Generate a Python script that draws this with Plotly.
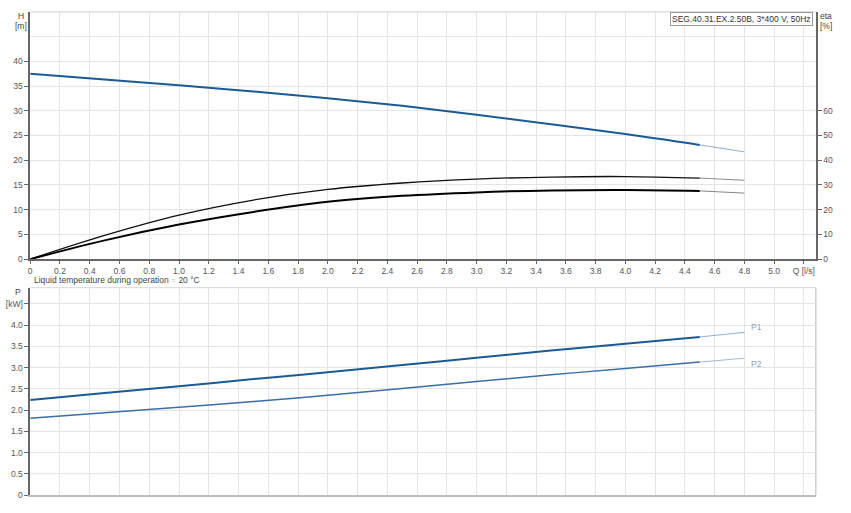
import plotly.graph_objects as go

# ---- data ----
Q = [0, 0.5, 1.0, 1.5, 2.0, 2.5, 3.0, 3.5, 4.0, 4.5, 4.8]
H = [37.5, 36.35, 35.15, 33.9, 32.55, 31.0, 29.2, 27.3, 25.3, 23.1, 21.7]
ETA_A = [0, 9.6, 17.8, 23.9, 28.2, 30.8, 32.4, 33.2, 33.4, 32.8, 31.9]
ETA_B = [0, 7.6, 14.0, 19.1, 23.2, 25.6, 27.0, 27.8, 28.0, 27.6, 26.7]
P1 = [2.24, 2.40, 2.56, 2.73, 2.89, 3.06, 3.23, 3.40, 3.56, 3.72, 3.83]
P2 = [1.81, 1.94, 2.07, 2.20, 2.35, 2.51, 2.67, 2.83, 2.98, 3.13, 3.22]
SOLID_END = 9  # index where the solid (operating) part of each curve ends

X_TICKS = [round(0.2 * i, 1) for i in range(27)]
X_LABELS = ["0" if v == 0 else ("Q [l/s]" if v == 5.2 else f"{v:.1f}") for v in X_TICKS]
H_TICKS = [0, 5, 10, 15, 20, 25, 30, 35, 40]
ETA_TICKS = [0, 10, 20, 30, 40, 50, 60]
P_TICKS = [0, 0.5, 1.0, 1.5, 2.0, 2.5, 3.0, 3.5, 4.0, 4.5]
P_LABELS = ["0", "0.5", "1.0", "1.5", "2.0", "2.5", "3.0", "3.5", "4.0", "[kW]"]

TITLE = "SEG.40.31.EX.2.50B, 3*400 V, 50Hz"

W, HGT = 851, 513
def px(x):
    return x / W
def py(y):
    return 1 - y / HGT

FONT = "Liberation Sans, Arial, sans-serif"
BLUE = "#1c5a96"
BLUE2 = "#3b6ea6"
GRID = "#e4e4e4"
AX = "#666666"

fig = go.Figure()

def add_curve(x, y, color, width, xaxis, yaxis):
    fig.add_trace(go.Scatter(x=x[:SOLID_END + 1], y=y[:SOLID_END + 1], mode="lines",
                             line=dict(color=color, width=width, shape="spline", smoothing=1),
                             xaxis=xaxis, yaxis=yaxis, showlegend=False, hoverinfo="skip"))
    fig.add_trace(go.Scatter(x=x[SOLID_END:], y=y[SOLID_END:], mode="lines",
                             line=dict(color=color, width=0.8),
                             opacity=0.6,
                             xaxis=xaxis, yaxis=yaxis, showlegend=False, hoverinfo="skip"))

add_curve(Q, H, BLUE, 2, "x", "y")
add_curve(Q, ETA_A, "#111111", 1.3, "x", "y2")
add_curve(Q, ETA_B, "#000000", 2, "x", "y2")
add_curve(Q, P1, BLUE, 2, "x2", "y3")
add_curve(Q, P2, BLUE2, 1.5, "x2", "y3")

xdom = [px(28.3), px(815.7)]
tickfont = dict(family=FONT, size=8.5, color="#555555")

fig.update_layout(
    width=W, height=HGT,
    margin=dict(l=0, r=0, t=0, b=0),
    paper_bgcolor="white", plot_bgcolor="white",
    font=dict(family=FONT, size=9, color="#444444"),
    showlegend=False,
    xaxis=dict(domain=xdom, range=[0, 5.28], anchor="y",
               tickmode="array", tickvals=X_TICKS, ticktext=X_LABELS,
               ticks="outside", ticklen=3, tickcolor=AX, tickfont=tickfont,
               showgrid=True, gridcolor=GRID, gridwidth=1, zeroline=False,
               showline=True, linecolor=AX, linewidth=1.5),
    yaxis=dict(domain=[py(261.7), py(12)], range=[0, 50], anchor="x",
               tickmode="array", tickvals=H_TICKS,
               ticks="outside", ticklen=4, tickcolor=AX, tickfont=tickfont,
               showgrid=True, gridcolor=GRID, zeroline=False,
               minor=dict(tickvals=[45, 50], showgrid=True, gridcolor=GRID, ticks=""),
               showline=True, linecolor=AX, linewidth=1.5),
    yaxis2=dict(overlaying="y", side="right", anchor="x", range=[0, 100],
                tickmode="array", tickvals=ETA_TICKS,
                ticks="outside", ticklen=4, tickcolor=AX, tickfont=tickfont,
                showgrid=False, zeroline=False,
                showline=True, linecolor=AX, linewidth=1.5),
    xaxis2=dict(domain=xdom, range=[0, 5.28], anchor="y3",
                tickmode="array", tickvals=X_TICKS, showticklabels=False, ticks="",
                showgrid=True, gridcolor=GRID, zeroline=False,
                showline=True, linecolor="#bdbdbd", linewidth=1.5),
    yaxis3=dict(domain=[py(500), py(290.5)], range=[0, 4.88], anchor="x2",
                tickmode="array", tickvals=P_TICKS, ticktext=P_LABELS,
                ticks="outside", ticklen=4, tickcolor=AX, tickfont=tickfont,
                showgrid=True, gridcolor=GRID, zeroline=False,
                showline=True, linecolor=AX, linewidth=1.5),
)

# frames (top / right borders)
fig.add_shape(type="line", xref="x domain", yref="y domain", x0=0, x1=1, y0=1, y1=1,
              line=dict(color="#cfcfcf", width=1), layer="below")
fig.add_shape(type="line", xref="x2 domain", yref="y3 domain", x0=0, x1=1, y0=1, y1=1,
              line=dict(color="#d8d8d8", width=1), layer="below")
fig.add_shape(type="line", xref="x2 domain", yref="y3 domain", x0=1, x1=1, y0=0, y1=1,
              line=dict(color="#cfcfcf", width=1.5), layer="below")

lab = dict(family=FONT, size=8.5, color="#444444")
anns = [
    dict(text="H", x=px(19), y=py(16), font=lab),
    dict(text="[m]", x=px(19), y=py(26), font=lab),
    dict(text="eta", x=px(826), y=py(16), font=lab),
    dict(text="[%]", x=px(826), y=py(26), font=lab),
    dict(text="P", x=px(16), y=py(294.5), font=lab),
]
for a in anns:
    fig.add_annotation(xref="paper", yref="paper", showarrow=False,
                       xanchor="center", yanchor="middle", **a)

fig.add_annotation(xref="paper", yref="paper", x=px(30), y=py(282.5),
                   xanchor="left", yanchor="middle", showarrow=False,
                   text='Liquid temperature during operation <span style="color:#c8c8c8">=</span> 20 °C',
                   font=dict(family=FONT, size=8.5, color="#444444"))

fig.add_annotation(xref="paper", yref="paper", x=px(813), y=py(11.7),
                   xanchor="right", yanchor="top", showarrow=False,
                   text=TITLE, bgcolor="white", bordercolor="#9a9a9a", borderwidth=1,
                   borderpad=1, font=dict(family=FONT, size=8.5, color="#333333"))

fig.add_annotation(xref="x2", yref="y3", x=Q[-1], y=P1[-1], xanchor="left", yanchor="middle",
                   xshift=5, yshift=5, showarrow=False, text="P1",
                   font=dict(family=FONT, size=8.5, color="#8da3bd"))
fig.add_annotation(xref="x2", yref="y3", x=Q[-1], y=P2[-1], xanchor="left", yanchor="middle",
                   xshift=5, yshift=-6, showarrow=False, text="P2",
                   font=dict(family=FONT, size=8.5, color="#8da3bd"))

PAGE_JS = (
    "var d=document.documentElement,b=document.body;"
    "d.style.margin='0';d.style.overflow='hidden';d.style.height='513px';"
    "b.style.margin='0';b.style.overflow='hidden';b.style.height='513px';"
)
fig.write_html("out.html", config={"displayModeBar": False}, post_script=PAGE_JS)
